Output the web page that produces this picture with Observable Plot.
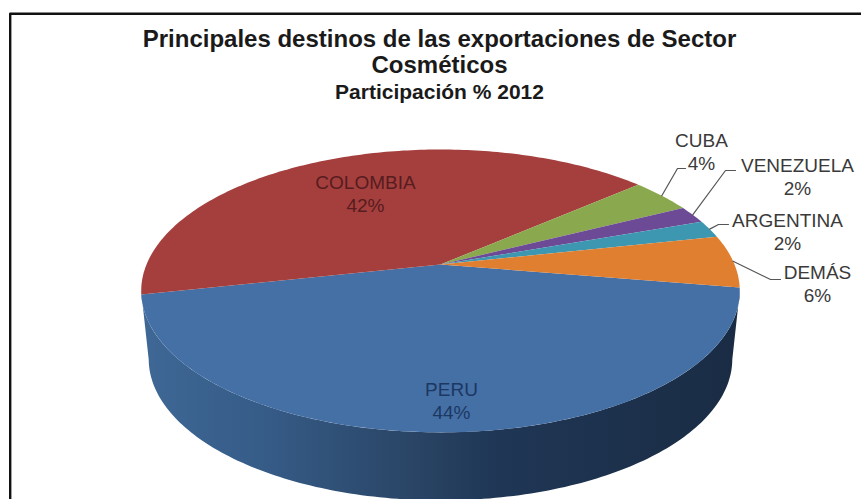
<!DOCTYPE html>
<html lang="es">
<head>
<meta charset="utf-8">
<title>Principales destinos de las exportaciones de Sector Cosméticos</title>
<script src="https://cdn.jsdelivr.net/npm/d3@7"></script>
<script src="https://cdn.jsdelivr.net/npm/@observablehq/plot@0.6"></script>
<style>
  html, body { margin: 0; padding: 0; background: #fff; }
  svg { display: block; }
</style>
</head>
<body>
<div id="chart"></div>
<script>
// Export shares by destination, Cosmetics sector, 2012 (%)
const destinations = ["PERU", "COLOMBIA", "CUBA", "VENEZUELA", "ARGENTINA", "DEMÁS"];
const shares = [44, 42, 4, 2, 2, 6];
const sliceColors = ["#4470a6", "#a53f3d", "#8aa84e", "#6d4a96", "#3d97b0", "#e07f30"];
const textColors = ["#1d3763", "#571c1f", "#3a3a3a", "#3a3a3a", "#3a3a3a", "#3a3a3a"];

// Perspective disc: unit circle tilted towards the viewer
const disc = {cx: 440, cy: 264, rx: 294, ry: 136.5, k: 0.187, startDeg: 9.4};
const wallDepth = 68;
const wallInset = 0.975;
const wallFromDeg = 11; // where the rim is widest on screen

// Point on the rim or interior of the disc; deg runs clockwise on screen from the +x axis
function project(deg, r = 1) {
  const t = deg * Math.PI / 180;
  const u = r * Math.cos(t), v = r * Math.sin(t);
  const w = 1 - disc.k * v;
  return {x: disc.cx + disc.rx * u / w, y: disc.cy + disc.ry * v / w};
}

function arc(from, to) {
  const n = Math.max(2, Math.ceil(Math.abs(to - from)));
  return d3.range(n + 1).map(i => project(from + (to - from) * i / n));
}

// Wedges on the top face, in order round the disc
let running = disc.startDeg;
const wedges = destinations.map((name, i) => {
  const from = running;
  const to = running + shares[i] * 3.6;
  running = to;
  return {name, from, to, mid: (from + to) / 2};
});
const topFace = wedges.flatMap(w =>
  [project(0, 0), ...arc(w.from, w.to)].map(p => ({...p, name: w.name}))
);

// Side wall: the front rim and the same rim dropped and drawn in slightly for depth
const rim = arc(wallFromDeg, 180 - wallFromDeg);
const dropped = rim.map(p => ({x: disc.cx + (p.x - disc.cx) * wallInset, y: p.y + wallDepth}));
const wall = [...rim, ...dropped.reverse()];

// Leader lines from each small slice to its label
const leaderBends = {
  CUBA: [[677, 168], [685, 168]],
  VENEZUELA: [[725, 170], [735, 170]],
  ARGENTINA: [[718, 224], [728, 224]],
  "DEMÁS": [[770, 279], [780, 279]]
};
const leaders = wedges
  .filter(w => leaderBends[w.name])
  .flatMap(w => [project(w.mid), ...leaderBends[w.name].map(([x, y]) => ({x, y}))]
    .map(p => ({...p, name: w.name})));

// Label anchors
const labelAt = {
  PERU: [451, 400], COLOMBIA: [365, 193], CUBA: [701, 151], VENEZUELA: [797, 176],
  ARGENTINA: [787, 231], "DEMÁS": [817, 283]
};
const labels = destinations.map((name, i) => ({
  x: labelAt[name][0], y: labelAt[name][1],
  text: `${name}\n${shares[i]}%`, color: textColors[i]
}));

const titleLines = [
  {text: "Principales destinos de las exportaciones de Sector", y: 39, size: 24},
  {text: "Cosméticos", y: 65, size: 24},
  {text: "Participación % 2012", y: 92, size: 21}
];

// Shaded side wall, lighter on the left and very dark on the right
const wallGradient = () => {
  const defs = d3.create("svg:defs");
  const g = defs.append("linearGradient").attr("id", "wallShade");
  [[0, "#3f6896"], [0.2, "#365c88"], [0.45, "#2a4566"], [0.6, "#1f3655"], [1, "#1a2c44"]]
    .forEach(([o, c]) => g.append("stop").attr("offset", o).attr("stop-color", c));
  return defs.node();
};

const chart = Plot.plot({
  width: 861,
  height: 499,
  margin: 0,
  x: {domain: [0, 861], range: [0, 861], axis: null},
  y: {domain: [0, 499], range: [0, 499], axis: null},
  color: {domain: destinations, range: sliceColors},
  style: {background: "#fff", fontFamily: "'Liberation Sans', Arial, sans-serif"},
  marks: [
    wallGradient,
    // frame along the left and upper edges; the rest lies outside the image
    Plot.line([{x: 9.7, y: 499}, {x: 9.7, y: 13.2}, {x: 861, y: 13.2}],
      {x: "x", y: "y", stroke: "#111", strokeWidth: 2.4}),
    Plot.line(wall, {x: "x", y: "y", fill: "url(#wallShade)", stroke: "none"}),
    Plot.line(topFace, {x: "x", y: "y", z: "name", fill: "name", stroke: "none"}),
    Plot.line(leaders, {x: "x", y: "y", z: "name", stroke: "#555", strokeWidth: 1.2}),
    Plot.text(labels, {
      x: "x", y: "y", text: "text", fill: "color",
      fontSize: 19, lineHeight: 1.2, textAnchor: "middle", lineAnchor: "middle"
    }),
    Plot.text(titleLines, {
      x: () => 439, y: "y", text: "text", fontSize: "size",
      fontWeight: "bold", fill: "#1a1a1a", textAnchor: "middle", lineAnchor: "middle"
    })
  ]
});
document.getElementById("chart").append(chart);
</script>
</body>
</html>
